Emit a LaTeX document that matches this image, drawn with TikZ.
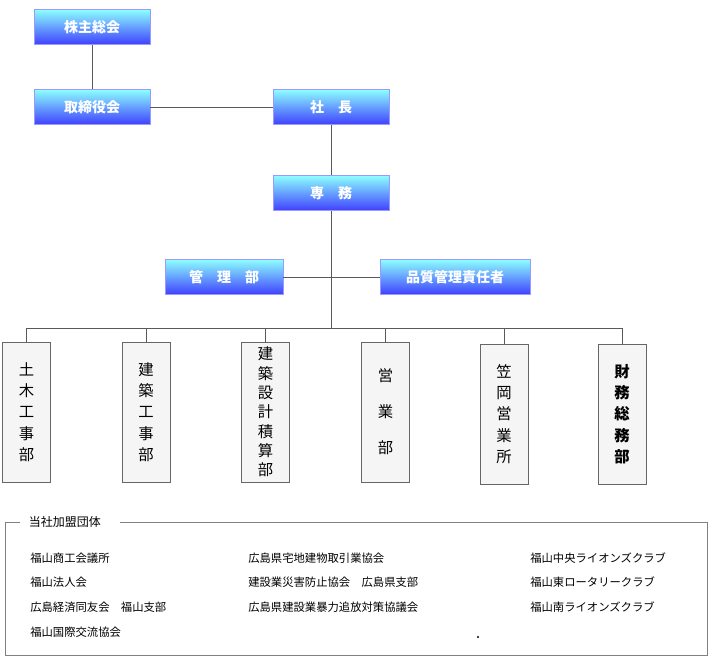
\documentclass[tikz,border=0pt]{standalone}
\usepackage{fontspec}
\newfontfamily\jp{Noto Sans CJK JP}
\usetikzlibrary{positioning}

\begin{document}
\begin{tikzpicture}[x=0.75pt,y=-0.75pt,
            head/.style={draw=blue!40, shading=axis, top color=cyan!45, bottom color=blue!75,
                 minimum width=116*0.75pt, minimum height=35*0.75pt, text=white,
                 font=\jp\bfseries\fontsize{10.5}{12}\selectfont, inner sep=0pt},
            dept/.style={draw=gray!80!black, fill=gray!8, minimum width=48*0.75pt,
                 minimum height=140*0.75pt, align=center, inner sep=0pt,
                 font=\jp\fontsize{11.5}{16}\selectfont},
            member/.style={anchor=west, inner sep=0pt, font=\jp\fontsize{8.5}{10}\selectfont}
            ]
            \useasboundingbox (0,0) rectangle (710,665);

            % Top of the chart
            \node[head] (soukai) at (92,27) {株主総会};
            \node[head] (torishimari) at (92,107) {取締役会};
            \node[head] (shacho) at (331,107) {社\quad 長};
            \node[head] (senmu) at (331,193) {専\quad 務};
            \node[head, minimum width=118*0.75pt] (kanri) at (224,277) {管\quad 理\quad 部};
            \node[head, minimum width=150*0.75pt] (hinshitsu) at (455,277) {品質管理責任者};

            % Departments
            \node[dept] (doboku) at (26.5,412) {土\\木\\工\\事\\部};
            \node[dept] (kenchiku) at (146,412) {建\\築\\工\\事\\部};
            \node[dept, font=\jp\fontsize{11.5}{14.5}\selectfont] (sekkei) at (265.5,412) {建\\築\\設\\計\\積\\算\\部};
            \node[dept, font=\jp\fontsize{11.5}{27}\selectfont] (eigyo) at (385.5,412) {営\\業\\部};
            \node[dept] (kasaoka) at (504,414) {笠\\岡\\営\\業\\所};
            \node[dept, font=\jp\bfseries\fontsize{11.5}{16}\selectfont] (zaimu) at (622,414) {財\\務\\総\\務\\部};

            % Lines
            \coordinate (bus) at (331,328);
            \draw[gray!70!black] (soukai) -- (torishimari);
            \draw[gray!70!black] (torishimari) -- (shacho);
            \draw[gray!70!black] (shacho) -- (senmu);
            \draw[gray!70!black] (senmu) -- (bus);
            \draw[gray!70!black] (kanri) -- (hinshitsu);
            \foreach \d in {doboku,kenchiku,sekkei,eigyo,kasaoka,zaimu}
              \draw[gray!70!black] (bus) -| (\d.north);

            % Member groups
            \draw[gray] (20,522) -- (5,522) -- (5,655) -- (707,655) -- (707,522) -- (120,522);
            \node[member, font=\jp\fontsize{9}{10}\selectfont, fill=white, inner sep=2pt] (title) at (26,522) {当社加盟団体};
            \node[member] (m1) at (30,558) {福山商工会議所};
            \node[member] (m2) at (30,582) {福山法人会};
            \node[member] (m3) at (30,607) {広島経済同友会\quad 福山支部};
            \node[member] (m4) at (30,632) {福山国際交流協会};
            \node[member] (m5) at (248,558) {広島県宅地建物取引業協会};
            \node[member] (m6) at (248,582) {建設業災害防止協会\quad 広島県支部};
            \node[member] (m7) at (248,607) {広島県建設業暴力追放対策協議会};
            \node[member] (m8) at (530,558) {福山中央ライオンズクラブ};
            \node[member] (m9) at (530,582) {福山東ロータリークラブ};
            \node[member] (m10) at (530,607) {福山南ライオンズクラブ};
            \fill (478,637) circle (1.2);
        \end{tikzpicture}
\end{document}
